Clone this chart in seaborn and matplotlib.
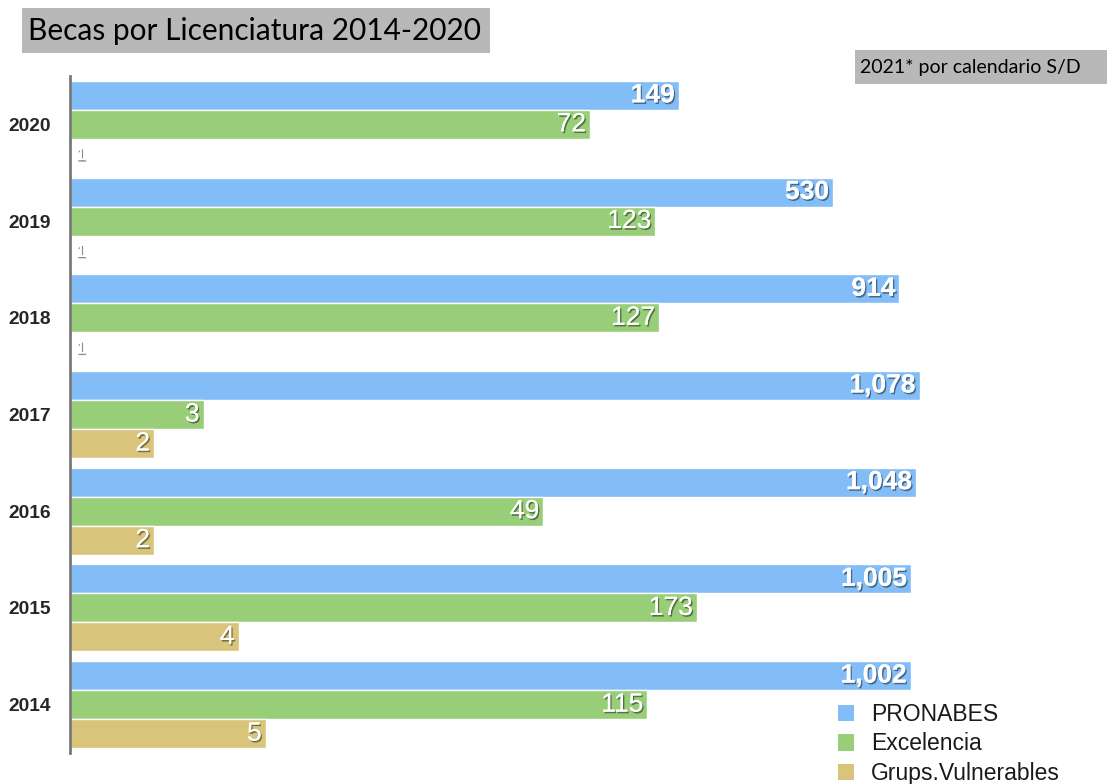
import matplotlib
matplotlib.use("Agg")
import matplotlib.pyplot as plt
import matplotlib.patheffects as pe
from matplotlib.patches import Patch, Rectangle
import seaborn as sns
import pandas as pd

years = ["2020", "2019", "2018", "2017", "2016", "2015", "2014"]
pronabes = [149, 530, 914, 1078, 1048, 1005, 1002]
excelencia = [72, 123, 127, 3, 49, 173, 115]
vulnerables = [1, 1, 1, 2, 2, 4, 5]
series = ["PRONABES", "Excelencia", "Grups.Vulnerables"]
colors = ["#82BDF8", "#98CE78", "#D9C47B"]

rows = []
for s, vals in zip(series, [pronabes, excelencia, vulnerables]):
    for y, v in zip(years, vals):
        rows.append({"year": y, "serie": s, "value": v})
df = pd.DataFrame(rows)

sns.set_style("white")
plt.rcParams["font.family"] = ["Liberation Sans", "DejaVu Sans"]

fig = plt.figure(figsize=(11.07, 7.84), dpi=100)
W, H = 1107, 784

fig.add_artist(Rectangle((22 / W, 1 - 53 / H), (490 - 22) / W, 45 / H,
                         transform=fig.transFigure, facecolor="#B8B8B8",
                         edgecolor="none", zorder=0))
fig.add_artist(Rectangle((855 / W, 1 - 84 / H), (1107 - 855) / W, 34 / H,
                         transform=fig.transFigure, facecolor="#B8B8B8",
                         edgecolor="none", zorder=0))

ax = fig.add_axes([70 / W, 1 - 753 / H, (1100 - 70) / W, (753 - 76) / H])
ax.patch.set_alpha(0)

sns.barplot(data=df, y="year", x="value", hue="serie", order=years,
            hue_order=series, palette=colors, orient="h", width=0.9,
            edgecolor="white", linewidth=1, saturation=1, legend=False, ax=ax)
ax.set_xscale("log")
ax.set_xlim(1, 4750)
ax.set_ylim(6.5, -0.5)
ax.set_xlabel("")
ax.set_ylabel("")
ax.set_xticks([])
ax.minorticks_off()
ax.tick_params(axis="y", length=0, pad=14)
for lab in ax.get_yticklabels():
    lab.set_fontweight("bold")
    lab.set_fontsize(13.8)
for sp in ["top", "right", "bottom"]:
    ax.spines[sp].set_visible(False)
ax.spines["left"].set_color("#7a7a7a")
ax.spines["left"].set_linewidth(2)

shadow = [pe.withSimplePatchShadow(offset=(1, -1.2), shadow_rgbFace="black", alpha=0.45), pe.Normal()]
for ci, cont in enumerate(ax.containers):
    for bar in cont:
        xend = bar.get_x() + bar.get_width()
        yc = bar.get_y() + bar.get_height() / 2
        val = int(round(xend))
        txt = f"{val:,}"
        if val <= 1:
            ax.annotate(txt, (1, yc), xytext=(4, -1.5), textcoords="offset points",
                        ha="left", va="center", color="white", fontsize=13,
                        path_effects=shadow)
        else:
            ax.annotate(txt, (xend, yc), xytext=(-3, 0), textcoords="offset points",
                        ha="right", va="center", color="white", fontsize=19,
                        fontweight="bold" if ci == 0 else "normal",
                        path_effects=shadow)

handles = [Patch(facecolor=c, edgecolor="none") for c in colors]
fig.legend(handles, series, loc="lower left", bbox_to_anchor=(817 / W, -22 / H),
           frameon=False, fontsize=16.5, handlelength=0.7, handleheight=0.7,
           handletextpad=0.75, labelspacing=0.3, labelcolor="#1a1a1a",
           borderpad=0.4)

fig.text(28 / W, 1 - 31 / H, "Becas por Licenciatura 2014-2020", fontsize=21.5,
         family=["Lato", "DejaVu Sans"], va="center", ha="left", color="black")
fig.text(860 / W, 1 - 67 / H, "2021* por calendario S/D", fontsize=14,
         family=["Lato", "DejaVu Sans"], va="center", ha="left", color="black")

fig.savefig("out.png", dpi=100)
